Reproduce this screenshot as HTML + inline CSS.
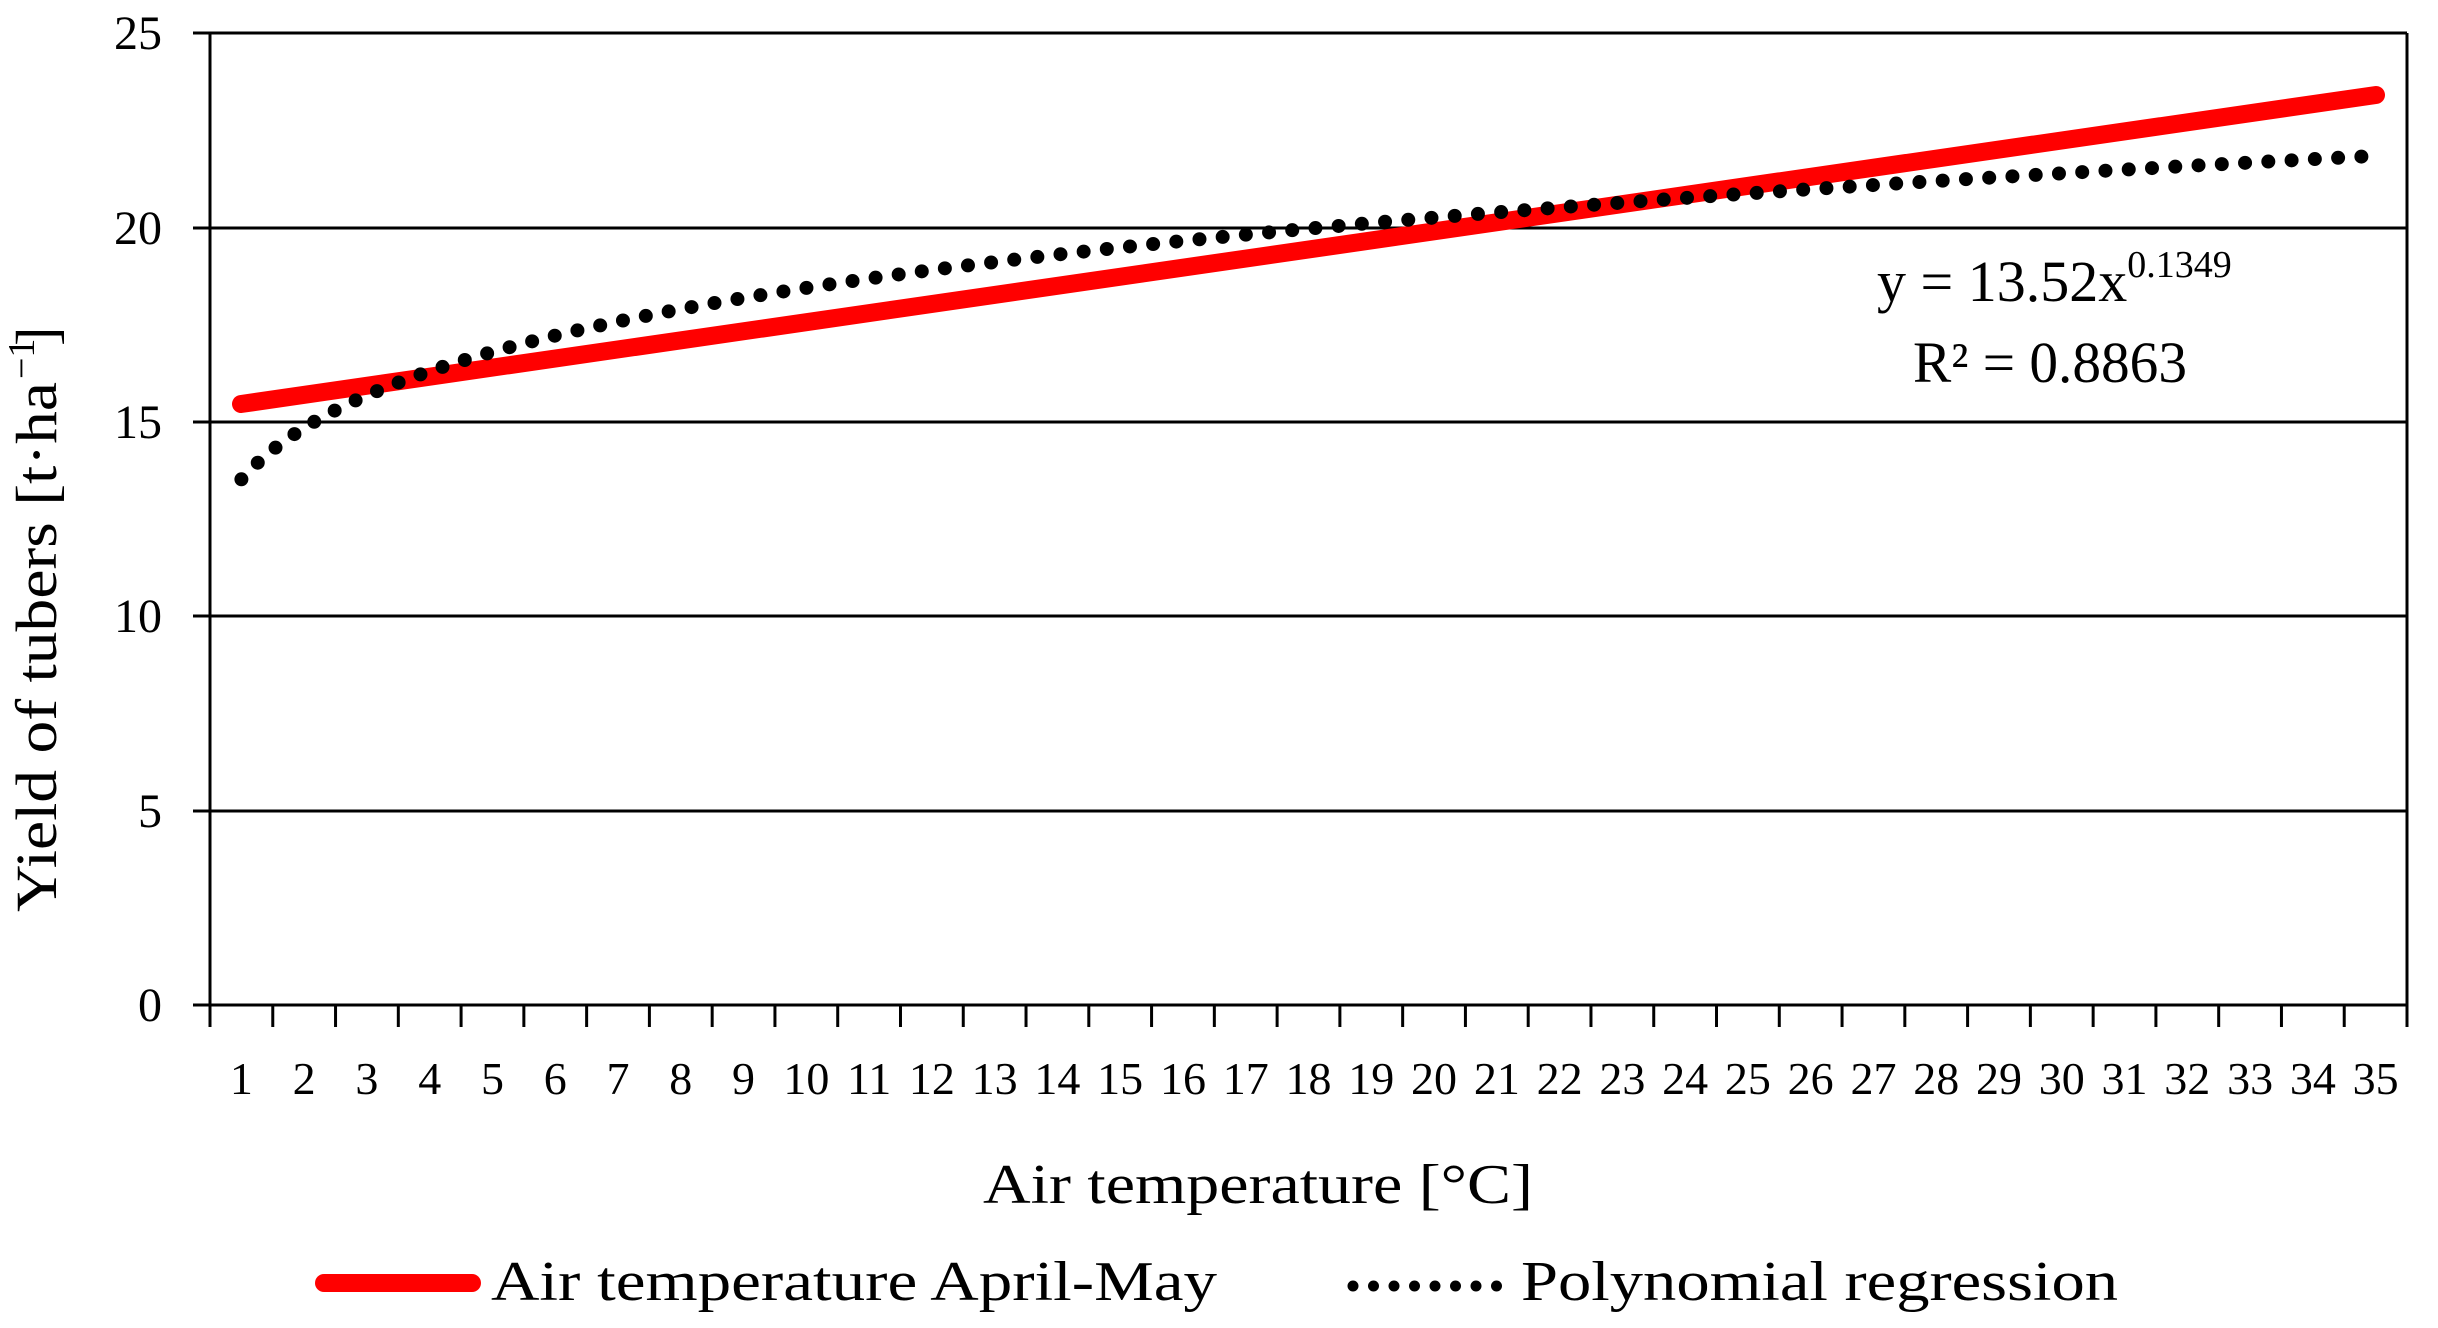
<!DOCTYPE html>
<html><head><meta charset="utf-8"><style>
html,body{margin:0;padding:0;background:#fff;}
svg{display:block;font-family:"Liberation Serif",serif;}
</style></head><body>
<svg id="s" width="2438" height="1328" viewBox="0 0 2438 1328" xmlns="http://www.w3.org/2000/svg">
<g stroke="#000" stroke-width="3">
<line x1="193" y1="33" x2="2407" y2="33"/>
<line x1="193" y1="228" x2="2407" y2="228"/>
<line x1="193" y1="422" x2="2407" y2="422"/>
<line x1="193" y1="616" x2="2407" y2="616"/>
<line x1="193" y1="811" x2="2407" y2="811"/>
<line x1="193" y1="1005" x2="2407" y2="1005"/>
<line x1="210" y1="33" x2="210" y2="1005"/>
<line x1="2407" y1="33" x2="2407" y2="1005"/>
</g>
<g id="ticks" stroke="#000" stroke-width="3"></g>
<g font-size="48" text-anchor="end">
<text x="162" y="49">25</text>
<text x="162" y="244">20</text>
<text x="162" y="438">15</text>
<text x="162" y="632">10</text>
<text x="162" y="827">5</text>
<text x="162" y="1021">0</text>
</g>
<g id="xl" font-size="46" text-anchor="middle"></g>
<line x1="241" y1="404" x2="2376" y2="95" stroke="#ff0000" stroke-width="18" stroke-linecap="round"/>
<polyline id="dots" fill="none" stroke="#000" stroke-width="14" stroke-linecap="round" stroke-dasharray="0 23.3"/>
<text x="1877" y="301" font-size="58">y = 13.52x<tspan font-size="38" dy="-24">0.1349</tspan></text>
<text x="1913" y="382" font-size="58" textLength="274" lengthAdjust="spacingAndGlyphs">R² = 0.8863</text>
<g transform="translate(56,624) rotate(-90)">
<text x="-288" y="0" font-size="58" textLength="530" lengthAdjust="spacingAndGlyphs">Yield of tubers [t·ha</text>
<text x="245" y="-22" font-size="38">−1</text>
<text x="278" y="0" font-size="58">]</text>
</g>
<text x="983" y="1203" font-size="56" textLength="550" lengthAdjust="spacingAndGlyphs">Air temperature [°C]</text>
<line x1="324" y1="1283" x2="472" y2="1283" stroke="#ff0000" stroke-width="18" stroke-linecap="round"/>
<text x="491" y="1300" font-size="56" textLength="726" lengthAdjust="spacingAndGlyphs">Air temperature April-May</text>
<line x1="1353" y1="1286" x2="1497" y2="1286" stroke="#000" stroke-width="11" stroke-linecap="round" stroke-dasharray="0 20.5"/>
<text x="1521" y="1300" font-size="56" textLength="597" lengthAdjust="spacingAndGlyphs">Polynomial regression</text>
</svg>
<script>
var ns="http://www.w3.org/2000/svg",sp=2197/35;
var t=document.getElementById("ticks"),xl=document.getElementById("xl");
for(var i=0;i<=35;i++){var l=document.createElementNS(ns,"line");var x=210+i*sp;l.setAttribute("x1",x);l.setAttribute("x2",x);l.setAttribute("y1",1005);l.setAttribute("y2",1027);t.appendChild(l);}
for(var i=1;i<=35;i++){var e=document.createElementNS(ns,"text");e.setAttribute("x",210+(i-0.5)*sp);e.setAttribute("y",1094);e.textContent=i;xl.appendChild(e);}
var pts=[];for(var k=0;k<=600;k++){var xv=1+34*k/600;var px=210+(xv-0.5)*sp;var py=1005-38.88*13.52*Math.pow(xv,0.1349);pts.push(px.toFixed(1)+","+py.toFixed(1));}
document.getElementById("dots").setAttribute("points",pts.join(" "));
</script>
</body></html>
